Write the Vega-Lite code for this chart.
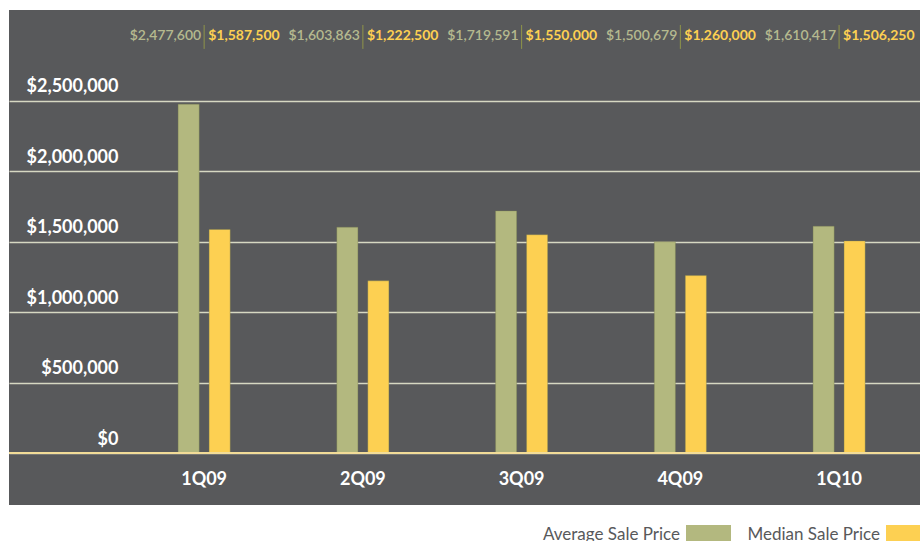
{
  "$schema": "https://vega.github.io/schema/vega-lite/v6.json",
  "width": 911,
  "height": 495,
  "autosize": {"type": "none"},
  "padding": {"left": 9, "top": 10, "right": 0, "bottom": 36},
  "background": "#FFFFFF",
  "config": {
    "font": "Lato",
    "view": {"fill": "#58595B", "stroke": null}
  },
  "datasets": {
    "bars": [
      {"quarter": "1Q09", "series": "Average Sale Price", "value": 2477600},
      {"quarter": "1Q09", "series": "Median Sale Price", "value": 1587500},
      {"quarter": "2Q09", "series": "Average Sale Price", "value": 1603863},
      {"quarter": "2Q09", "series": "Median Sale Price", "value": 1222500},
      {"quarter": "3Q09", "series": "Average Sale Price", "value": 1719591},
      {"quarter": "3Q09", "series": "Median Sale Price", "value": 1550000},
      {"quarter": "4Q09", "series": "Average Sale Price", "value": 1500679},
      {"quarter": "4Q09", "series": "Median Sale Price", "value": 1260000},
      {"quarter": "1Q10", "series": "Average Sale Price", "value": 1610417},
      {"quarter": "1Q10", "series": "Median Sale Price", "value": 1506250}
    ],
    "labels": [
      {"quarter": "1Q09", "avg": 2477600, "median": 1587500},
      {"quarter": "2Q09", "avg": 1603863, "median": 1222500},
      {"quarter": "3Q09", "avg": 1719591, "median": 1550000},
      {"quarter": "4Q09", "avg": 1500679, "median": 1260000},
      {"quarter": "1Q10", "avg": 1610417, "median": 1506250}
    ]
  },
  "encoding": {
    "x": {
      "field": "quarter",
      "type": "nominal",
      "sort": ["1Q09", "2Q09", "3Q09", "4Q09", "1Q10"],
      "scale": {"paddingInner": 0.672, "paddingOuter": 0.7055, "align": 0.755},
      "axis": {
        "title": null,
        "domain": false,
        "ticks": false,
        "tickSize": 0,
        "labelAngle": 0,
        "labelPadding": -26,
        "labelBaseline": "middle",
        "labelColor": "#FFFFFF",
        "labelFont": "Lato",
        "labelFontWeight": "bold",
        "labelFontSize": 18
      }
    }
  },
  "layer": [
    {
      "data": {"name": "bars"},
      "mark": {"type": "bar", "strokeWidth": 1, "strokeOpacity": 0.35, "stroke": "#7E8450"},
      "encoding": {
        "xOffset": {
          "field": "series",
          "type": "nominal",
          "scale": {"paddingInner": 0.32, "paddingOuter": 0}
        },
        "y": {
          "field": "value",
          "type": "quantitative",
          "scale": {"domain": [-369300, 3146300], "nice": false, "zero": false},
          "axis": {
            "title": null,
            "values": [0, 500000, 1000000, 1500000, 2000000, 2500000],
            "format": "$,.0f",
            "grid": true,
            "gridColor": "#D6D8C2",
            "gridWidth": 1.5,
            "domain": false,
            "ticks": false,
            "tickSize": 0,
            "labelAlign": "right",
            "labelBaseline": "alphabetic",
            "labelPadding": -109,
            "labelOffset": -9,
            "labelColor": "#FFFFFF",
            "labelFont": "Lato",
            "labelFontWeight": "bold",
            "labelFontSize": 18
          }
        },
        "y2": {"datum": 0},
        "color": {
          "field": "series",
          "type": "nominal",
          "scale": {
            "domain": ["Average Sale Price", "Median Sale Price"],
            "range": ["#B3B87F", "#FDD052"]
          },
          "legend": {
            "title": null,
            "orient": "none",
            "direction": "horizontal",
            "legendX": 677,
            "legendY": 502,
            "symbolType": "M-1,-0.44H1V0.44H-1Z",
            "symbolSize": 2025,
            "symbolStrokeWidth": 0,
            "symbolOpacity": 1,
            "labelAlign": "right",
            "labelOffset": -51,
            "labelBaseline": "middle",
            "labelFont": "Lato",
            "labelFontSize": 17,
            "labelColor": "#58595B",
            "labelLimit": 300,
            "columnPadding": 16,
            "encode": {
              "symbols": {
                "update": {
                  "fill": {"signal": "datum.value === 'Average Sale Price' ? '#C5C89B' : '#FDD052'"}
                }
              }
            }
          }
        }
      }
    },
    {
      "data": {"name": "bars"},
      "mark": {"type": "rule", "color": "#F2DC98", "strokeWidth": 2},
      "encoding": {
        "x": null,
        "y": {"datum": 0}
      }
    },
    {
      "data": {"name": "labels"},
      "mark": {"type": "text", "align": "right", "baseline": "middle", "dx": -3, "fontSize": 14, "fontWeight": 600, "color": "#B5B98F"},
      "encoding": {
        "y": {"datum": 2960000},
        "text": {"field": "avg", "type": "quantitative", "format": "$,.0f"}
      }
    },
    {
      "data": {"name": "labels"},
      "mark": {"type": "text", "align": "left", "baseline": "middle", "dx": 4, "fontSize": 14, "fontWeight": "bold", "color": "#FDD052"},
      "encoding": {
        "y": {"datum": 2960000},
        "text": {"field": "median", "type": "quantitative", "format": "$,.0f"}
      }
    },
    {
      "data": {"name": "labels"},
      "mark": {"type": "rule", "color": "#8F9548", "strokeWidth": 1},
      "encoding": {
        "y": {"datum": 3040000},
        "y2": {"datum": 2870000}
      }
    }
  ]
}
